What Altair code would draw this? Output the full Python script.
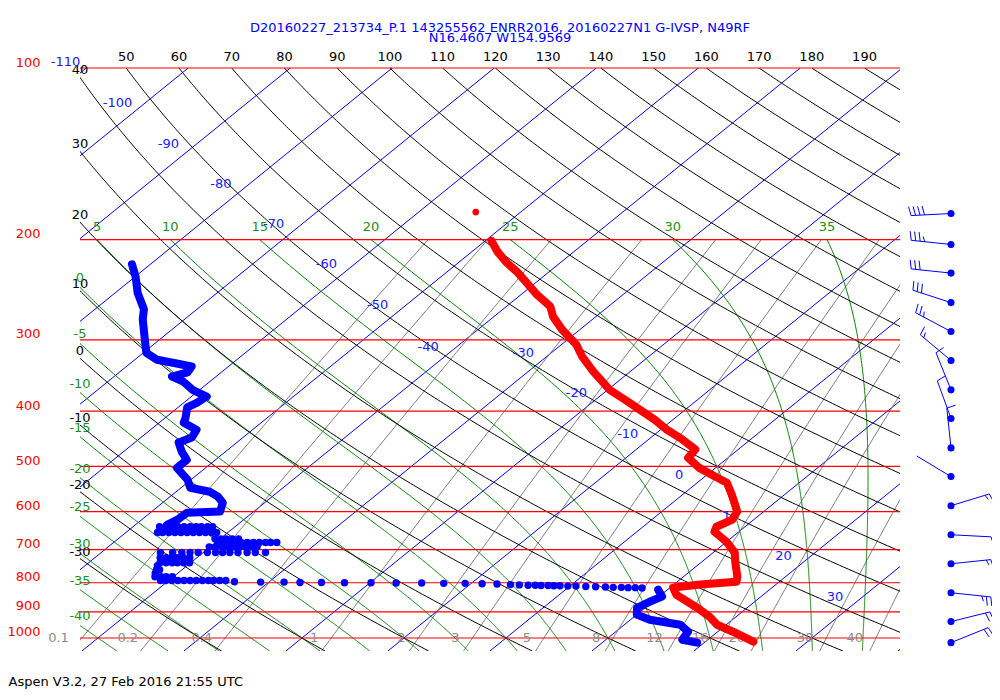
import altair as alt
import numpy as np
import pandas as pd

# ------------------------------------------------------------------ texts
title_line1 = "D20160227_213734_P.1 143255562 ENRR2016, 20160227N1 G-IVSP, N49RF"
title_line2 = "N16.4607 W154.9569"
footer = "Aspen V3.2, 27 Feb 2016  21:55 UTC"

# ------------------------------------------------------------------ diagram furniture (values)
pressure_levels = [100, 200, 300, 400, 500, 600, 700, 800, 900, 1000]
isotherms = list(range(-110, 50, 10))
dry_adiabats = list(range(-30, 200, 10))          # potential temperature, deg C
moist_adiabats = list(range(-40, 40, 5))          # wet-bulb potential temperature, deg C
mixing_ratios = [0.1, 0.2, 0.4, 1, 2, 3, 5, 8, 12, 16, 20, 30, 40]
mixing_labels = ["0.1", "0.2", "0.4", "1", "2", "3", "5", "8", "12", "16", "20", "30", "40"]
iso_label_t = [-110, -100, -90, -80, -70, -60, -50, -40, -30, -20, -10, 0, 10, 20, 30]
iso_label_p = [97.6, 115, 136, 160, 188, 221, 261, 309, 316, 371, 438, 517, 610, 717, 846]

# ------------------------------------------------------------------ sounding
temp_p = [201, 210, 219, 228, 238, 250, 262, 273, 288, 306, 321, 341, 367, 382, 398, 414,
          431, 447, 467, 483, 503, 523, 534, 560, 600, 620, 638, 651, 678, 708, 738, 781,
          797, 806, 816, 840, 885, 918, 948, 975, 1015]
temp_t = [-49.4, -47.5, -45.4, -43.1, -40.9, -38.4, -35.7, -34.2, -31.7, -28.5, -26.5, -23.6,
          -19.8, -17.1, -14.4, -11.8, -9.4, -6.9, -4.2, -3.9, -1.6, 1.3, 2.9, 4.8, 7.4, 7.9,
          7.2, 7.6, 10.0, 12.1, 13.4, 15.3, 15.8, 12.6, 10.3, 11.5, 15.1, 17.4, 19.1, 21.5, 24.7]
stray_p = [179]
stray_t = [-54.4]

dew_upper_p = [221, 232, 248, 265, 276, 300, 316, 325, 329, 334, 342, 348, 355, 367, 377, 387,
               394, 411, 419, 431, 445, 454, 471, 487, 503, 528, 545, 554, 565, 579, 600, 603,
               620, 633]
dew_upper_t = [-81.8, -80.0, -77.8, -75.2, -74.1, -71.4, -69.7, -67.8, -65.9, -63.6, -63.3,
               -64.3, -62.6, -60.7, -58.5, -58.7, -59.1, -58.0, -57.6, -55.5, -55.0, -55.7,
               -54.3, -52.8, -52.8, -50.3, -49.1, -46.7, -45.3, -44.1, -43.3, -46.4, -46.5,
               -46.9]
# scattered samples between 630 and 800 hPa: one pressure per strip, its dewpoints
dew_band_p = [638, 653, 670, 680, 692, 708, 723, 738, 747, 759, 770, 781, 793]
dew_band_t = [
    [-47.4, -46.8, -46.2, -45.6, -45.0, -44.4, -43.8, -43.3, -42.7, -42.2],
    [-46.9, -46.4, -45.8, -45.2, -44.6, -44.0, -43.4, -42.8, -42.2, -41.6, -41.1],
    [-40.5, -39.9, -39.4, -38.8, -38.2],
    [-39.8, -39.3, -38.7, -38.1, -37.5, -36.9, -36.3, -35.7, -35.1, -34.6, -34.0],
    [-40.1, -39.5, -38.9, -38.3, -37.7, -37.1, -36.5, -35.9, -35.4],
    [-44.2, -43.0, -42.1, -41.3, -40.5, -39.6, -38.8, -38.1, -37.4, -36.6, -35.7, -34.9, -33.9],
    [-43.6, -43.0, -42.5, -41.9, -41.3, -40.7],
    [-43.0, -42.4, -41.8, -41.3, -40.7, -40.1],
    [-42.9],
    [-42.5, -42.2],
    [-42.2],
    [-41.8, -41.2, -40.7, -40.1],
    [-40.8, -40.3, -39.7, -39.1, -38.5, -37.9, -37.3, -36.7, -36.1, -35.6, -35.0, -34.4],
]
dew_run_p = [797, 798, 798, 799, 799, 800, 800, 801, 801, 802, 802, 803, 804, 806, 807, 808,
             808, 809, 809, 810, 810, 811, 811, 812, 813, 814, 815, 815, 816, 816, 817]
dew_run_t = [-33.4, -30.8, -28.5, -26.9, -24.8, -22.5, -19.9, -17.4, -14.9, -12.7, -10.6,
             -8.9, -7.4, -6.0, -5.1, -4.2, -3.5, -2.9, -2.2, -1.6, -1.0, -0.2, 0.6, 1.6, 2.6,
             3.6, 4.4, 5.2, 5.9, 6.6, 7.3]
dew_lower_p = [823, 846, 864, 885, 910, 929, 948, 975, 1007, 1019]
dew_lower_t = [9.1, 10.3, 9.7, 9.2, 10.0, 11.9, 15.5, 17.1, 17.5, 19.3]

wind_p = [180, 204, 229, 258, 290, 326, 367, 412, 464, 521, 586, 659, 741, 833, 936, 1019]
wind_dir = [267, 276, 276, 288, 298, 310, 338, 340, 354, 301, 73, 93, 84, 96, 76, 68]
wind_spd = [40, 35, 30, 30, 25, 15, 10, 10, 10, 2, 15, 5, 15, 25, 20, 20]

# ------------------------------------------------------------------ geometry of the skew-T
P_TOP, P_BOT = 100.0, 1054.0
X_MIN, X_MAX = -41.76, 38.63
SKEW = 29.9
KAPPA = 0.2865
W, H = 820, 583
PX_X = W / (X_MAX - X_MIN)
PX_L = H / np.log(P_BOT / P_TOP)
FONT = "DejaVu Sans"


def skx(t, p):
    return np.asarray(t, float) + SKEW * np.log(1000.0 / np.asarray(p, float))


def left_crossing(xs, ps):
    xs = np.asarray(xs); ps = np.asarray(ps)
    d = xs - X_MIN
    for i in range(len(d) - 1):
        if d[i] == 0 or d[i] * d[i + 1] < 0:
            f = d[i] / (d[i] - d[i + 1])
            return float(np.exp(np.log(ps[i]) + f * (np.log(ps[i + 1]) - np.log(ps[i]))))
    return None


# dry adiabats
pg = np.exp(np.linspace(np.log(P_TOP), np.log(P_BOT), 300))
rows = []
th_top, th_left = [], []
for th in dry_adiabats:
    t = (th + 273.15) * (pg / 1000.0) ** KAPPA - 273.15
    xs = skx(t, pg)
    for i, (xv, pv) in enumerate(zip(xs, pg)):
        rows.append({"X": xv, "p": pv, "id": th, "idx": i})
    if X_MIN <= xs[0] <= X_MAX:
        th_top.append({"X": xs[0], "p": P_TOP, "label": str(th)})
    else:
        pc = left_crossing(xs, pg)
        if pc is not None:
            th_left.append({"X": X_MIN, "p": pc, "label": str(th)})
dry_df = pd.DataFrame(rows)

# moist (pseudo) adiabats
RD, CP, LV, EPS = 287.04, 1005.7, 2.501e6, 0.622


def dtdp(p, T):
    e = 611.2 * np.exp(17.67 * (T - 273.15) / (T - 29.65))
    rs = EPS * e / (p - e)
    return (RD * T + LV * rs) / (CP + LV * LV * rs * EPS / (RD * T * T)) / p


def integrate(T0, p0, p1, n):
    ps = np.linspace(p0, p1, n + 1)
    out = [T0]
    T = T0
    for i in range(n):
        h = ps[i + 1] - ps[i]
        p = ps[i]
        k1 = dtdp(p, T)
        k2 = dtdp(p + h / 2, T + h * k1 / 2)
        k3 = dtdp(p + h / 2, T + h * k2 / 2)
        k4 = dtdp(p + h, T + h * k3)
        T = T + h * (k1 + 2 * k2 + 2 * k3 + k4) / 6
        out.append(T)
    return ps / 100.0, np.array(out)


T0 = np.array(moist_adiabats, float) + 273.15
pu, tu = integrate(T0, 100000.0, 20000.0, 400)
pd_, td_ = integrate(T0, 100000.0, P_BOT * 100, 27)
mp = np.concatenate([pd_[::-1], pu[1:]])
mt = np.concatenate([td_[::-1], tu[1:]]) - 273.15
rows = []
mw_top, mw_left = [], []
for j, tw in enumerate(moist_adiabats):
    xs = skx(mt[:, j], mp)
    for i, (xv, pv) in enumerate(zip(xs, mp)):
        rows.append({"X": xv, "p": pv, "id": tw, "idx": i})
    if X_MIN <= xs[-1] <= X_MAX:
        mw_top.append({"X": xs[-1], "p": 200.0, "label": str(tw)})
    else:
        pc = left_crossing(xs, mp)
        if pc is not None:
            mw_left.append({"X": X_MIN, "p": pc, "label": str(tw)})
moist_df = pd.DataFrame(rows)

# mixing-ratio lines
pm = np.linspace(200.0, P_BOT, 60)
rows, mr_lab = [], []
for w, lab in zip(mixing_ratios, mixing_labels):
    e = w * pm / (622.0 + w)
    a = np.log(e / 6.112)
    tdw = 243.5 * a / (17.67 - a)
    xs = skx(tdw, pm)
    for i, (xv, pv) in enumerate(zip(xs, pm)):
        rows.append({"X": xv, "p": pv, "id": w, "idx": i})
    e0 = w * 1000.0 / (622.0 + w)
    a0 = np.log(e0 / 6.112)
    mr_lab.append({"X": 243.5 * a0 / (17.67 - a0), "p": 1000.0, "label": lab})
mix_df = pd.DataFrame(rows)

# isotherms as straight segments
iso_df = pd.DataFrame({
    "X": skx(isotherms, [P_BOT] * len(isotherms)),
    "p": [P_BOT] * len(isotherms),
    "X2": skx(isotherms, [P_TOP] * len(isotherms)),
    "p2": [P_TOP] * len(isotherms),
})
iso_lab_df = pd.DataFrame({"X": skx(iso_label_t, iso_label_p), "p": iso_label_p,
                           "label": [str(t) for t in iso_label_t]})
isobar_df = pd.DataFrame({"X": [X_MIN] * len(pressure_levels), "X2": [X_MAX] * len(pressure_levels),
                          "p": pressure_levels})

# sounding frames
temp_df = pd.DataFrame({"X": skx(temp_t, temp_p), "p": temp_p, "idx": range(len(temp_p))})
stray_df = pd.DataFrame({"X": skx(stray_t, stray_p), "p": stray_p})
dew_seg = []
for k, (pp, tt) in enumerate([(dew_upper_p, dew_upper_t), (dew_lower_p, dew_lower_t)]):
    for i, (a, b) in enumerate(zip(pp, tt)):
        dew_seg.append({"X": float(skx(b, a)), "p": a, "seg": k, "idx": i})
dew_df = pd.DataFrame(dew_seg)
dots_p, dots_t = [], []
for pp, tl in zip(dew_band_p, dew_band_t):
    dots_p += [pp] * len(tl)
    dots_t += tl
dots_p += dew_run_p
dots_t += dew_run_t
run_df = pd.DataFrame({"X": skx(dots_t, dots_p), "p": dots_p})

# wind barbs
BARB_X = X_MAX + 5.0
STAFF, FULL, HALF, GAP = 40.0, 9.0, 5.0, 4.5


def to_data(p0, dx, dy):
    return BARB_X + dx / PX_X, p0 * np.exp(dy / PX_L)


segs = []
for p0, d, s in zip(wind_p, wind_dir, wind_spd):
    r = np.radians(d)
    ux, uy = np.sin(r), -np.cos(r)
    qx, qy = -uy, ux
    tipx, tipy = ux * STAFF, uy * STAFF
    a = to_data(p0, 0, 0)
    b = to_data(p0, tipx, tipy)
    segs.append({"X": a[0], "p": a[1], "X2": b[0], "p2": b[1]})
    n5 = int(round(s / 5.0))
    n10, h5 = divmod(n5, 2)
    pos = STAFF
    for kind in [FULL] * n10 + [HALF] * h5:
        bx, by = ux * pos, uy * pos
        ex, ey = bx + qx * kind + ux * 2.0, by + qy * kind + uy * 2.0
        a = to_data(p0, bx, by)
        b = to_data(p0, ex, ey)
        segs.append({"X": a[0], "p": a[1], "X2": b[0], "p2": b[1]})
        pos -= GAP
barb_df = pd.DataFrame(segs)
wdot_df = pd.DataFrame({"X": [BARB_X] * len(wind_p), "p": wind_p})

# ------------------------------------------------------------------ chart
xscale = alt.Scale(domain=[X_MIN, X_MAX], nice=False, zero=False)
yscale = alt.Scale(type="log", domain=[P_TOP, P_BOT], reverse=True, nice=False, zero=False)
xaxis = alt.Axis(title=footer, labels=False, ticks=False, domain=False, grid=False,
                 titleFont=FONT, titleFontSize=13, titleFontWeight="normal", titleColor="#000000",
                 titleX=-72, titleY=30, titleAlign="left", titleAnchor="start", titleBaseline="middle")
yaxis = alt.Axis(values=pressure_levels, title=None, ticks=False, domain=False, grid=False,
                 labelColor="#ff0000", labelFont=FONT, labelFontSize=13, labelPadding=40,
                 labelOffset=-6, labelAlign="right", labelBaseline="middle", labelFlush=False,
                 labelOverlap=False, format="d")


def X(f="X"):
    return alt.X(f"{f}:Q", scale=xscale, axis=xaxis)


def Y(f="p"):
    return alt.Y(f"{f}:Q", scale=yscale, axis=yaxis)


def text_layer(df, color, **kw):
    return alt.Chart(pd.DataFrame(df)).mark_text(font=FONT, fontSize=13, color=color, **kw).encode(
        x=X(), y=Y(), text="label:N")


layers = [
    alt.Chart(iso_df).mark_rule(color="#0000ff", strokeWidth=1, clip=True).encode(
        x=X(), y=Y(), x2="X2:Q", y2="p2:Q"),
    alt.Chart(mix_df).mark_line(color="#808080", strokeWidth=1, clip=True).encode(
        x=X(), y=Y(), detail="id:N", order="idx:Q"),
    alt.Chart(moist_df).mark_line(color="#008000", strokeWidth=1, clip=True).encode(
        x=X(), y=Y(), detail="id:N", order="idx:Q"),
    alt.Chart(dry_df).mark_line(color="#000000", strokeWidth=1, clip=True).encode(
        x=X(), y=Y(), detail="id:N", order="idx:Q"),
    alt.Chart(isobar_df).mark_rule(color="#ff0000", strokeWidth=1.2).encode(
        x=X(), y=Y(), x2="X2:Q"),
    text_layer(th_top, "#000000", dy=-11, align="center", baseline="middle"),
    text_layer(th_left, "#000000", dy=-7, align="center", baseline="middle"),
    text_layer(mw_top, "#1a8f1a", dy=-13, align="center", baseline="middle"),
    text_layer(mw_left, "#1a8f1a", dy=-9, align="center", baseline="middle"),
    text_layer(mr_lab, "#8c8c8c", dx=-13, align="right", baseline="middle"),
    text_layer(iso_lab_df, "#2020ff", dx=-28, align="center", baseline="middle"),
    alt.Chart(temp_df).mark_line(color="#ff0000", strokeWidth=8, strokeCap="round",
                                 strokeJoin="round").encode(x=X(), y=Y(), order="idx:Q"),
    alt.Chart(stray_df).mark_circle(color="#ff0000", size=45, opacity=1).encode(x=X(), y=Y()),
    alt.Chart(dew_df).mark_line(color="#0000ff", strokeWidth=8, strokeCap="round",
                                strokeJoin="round").encode(x=X(), y=Y(), detail="seg:N",
                                                           order="idx:Q"),
    alt.Chart(run_df).mark_circle(color="#0000ff", size=55, opacity=1).encode(x=X(), y=Y()),
    alt.Chart(barb_df).mark_rule(color="#0000ff", strokeWidth=1).encode(
        x=X(), y=Y(), x2="X2:Q", y2="p2:Q"),
    alt.Chart(wdot_df).mark_circle(color="#0000ff", size=50, opacity=1).encode(x=X(), y=Y()),
]

chart = alt.layer(*layers).properties(
    width=W, height=H,
    title=alt.TitleParams(text=[title_line1, title_line2], color="#0000ff", font=FONT, fontSize=13,
                          fontWeight="normal", anchor="middle", frame="group", offset=6,
                          lineHeight=10, dx=10),
    padding={"left": 72, "top": 60, "right": 92, "bottom": 38},
    autosize=alt.AutoSizeParams(type="none"),
).configure_view(stroke=None)

chart.save("out.html", embed_options={"renderer": "svg", "actions": False})
